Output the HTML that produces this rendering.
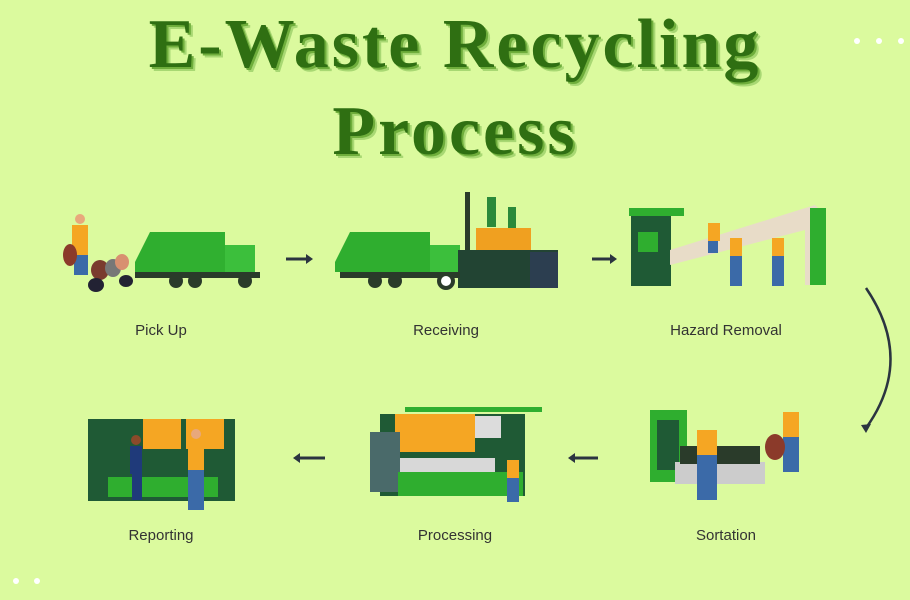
<!DOCTYPE html>
<html><head><style>
html,body{margin:0;padding:0}
body{width:910px;height:600px;background:#dbfa9e;position:relative;overflow:hidden;font-family:"Liberation Sans",sans-serif}
.t{position:absolute;left:0;width:910px;text-align:center;font-family:"Liberation Serif",serif;font-weight:bold;color:#2f6f12;text-shadow:2px 2px 0 #6fae3c,4px 4px 0 #a8d873;letter-spacing:3px}
.l{position:absolute;font-size:15px;color:#333;width:200px;text-align:center}
svg{position:absolute;left:0;top:0}
</style></head><body>
<div class="t" style="top:5px;font-size:70px;line-height:80px">E-Waste Recycling</div>
<div class="t" style="top:92px;font-size:70px;line-height:80px">Process</div>
<div class="l" style="left:61px;top:322px">Pick Up</div>
<div class="l" style="left:346px;top:322px">Receiving</div>
<div class="l" style="left:626px;top:322px">Hazard Removal</div>
<div class="l" style="left:61px;top:527px">Reporting</div>
<div class="l" style="left:355px;top:527px">Processing</div>
<div class="l" style="left:626px;top:527px">Sortation</div>
<svg width="910" height="600">
<g fill="#fff"><circle cx="857" cy="41" r="3"/><circle cx="879" cy="41" r="3"/><circle cx="901" cy="41" r="3"/><circle cx="16" cy="581" r="3"/><circle cx="37" cy="581" r="3"/></g>
<g stroke="#2b3440" stroke-width="3" fill="#2b3440">
<line x1="286" y1="259" x2="306" y2="259"/><polygon points="306,254 313,259 306,264" stroke="none"/>
<line x1="592" y1="259" x2="610" y2="259"/><polygon points="610,254 617,259 610,264" stroke="none"/>
<line x1="325" y1="458" x2="300" y2="458"/><polygon points="300,453 293,458 300,463" stroke="none"/>
<line x1="598" y1="458" x2="575" y2="458"/><polygon points="575,453 568,458 575,463" stroke="none"/>
<path d="M866 288 Q915 360 866 428" fill="none" stroke-width="2.5"/><polygon points="861,425 866,433 871,424" stroke="none"/>
</g>
<g><rect x="72" y="225" width="16" height="30" fill="#f5a623"/><circle cx="80" cy="219" r="5" fill="#e8a87c"/><rect x="74" y="255" width="14" height="20" fill="#3b6aa8"/>
<ellipse cx="70" cy="255" rx="7" ry="11" fill="#8b3a2a"/><ellipse cx="100" cy="270" rx="9" ry="10" fill="#7a3b2e"/><ellipse cx="113" cy="268" rx="8" ry="9" fill="#777"/><ellipse cx="122" cy="262" rx="7" ry="8" fill="#d89070"/><ellipse cx="96" cy="285" rx="8" ry="7" fill="#223"/><ellipse cx="126" cy="281" rx="7" ry="6" fill="#223"/>
<polygon points="135,262 150,232 225,232 225,272 135,272" fill="#2fae2f"/><rect x="160" y="232" width="65" height="40" fill="#30b030"/><rect x="225" y="245" width="30" height="30" fill="#3cbf3c"/><rect x="135" y="272" width="125" height="6" fill="#2a3b2a"/>
<g fill="#2a3b2a"><circle cx="176" cy="281" r="7"/><circle cx="195" cy="281" r="7"/><circle cx="245" cy="281" r="7"/></g></g>
<g><polygon points="335,262 350,232 430,232 430,272 335,272" fill="#2fae2f"/><rect x="430" y="245" width="30" height="30" fill="#3cbf3c"/>
<rect x="465" y="192" width="5" height="60" fill="#2a3b2a"/><rect x="487" y="197" width="9" height="30" fill="#2a8a3a"/><rect x="508" y="207" width="8" height="25" fill="#2a8a3a"/>
<rect x="476" y="228" width="55" height="25" fill="#f0a020"/><rect x="458" y="250" width="100" height="38" fill="#224433"/><rect x="530" y="252" width="28" height="36" fill="#2c3e50"/>
<rect x="340" y="272" width="120" height="6" fill="#2a3b2a"/><g fill="#2a3b2a"><circle cx="375" cy="281" r="7"/><circle cx="395" cy="281" r="7"/></g><circle cx="446" cy="281" r="7" fill="#fff" stroke="#2a3b2a" stroke-width="4"/></g>
<g><rect x="629" y="208" width="55" height="8" fill="#2fae2f"/><rect x="631" y="216" width="40" height="70" fill="#1f5a35"/><rect x="638" y="232" width="20" height="20" fill="#2fae2f"/>
<polygon points="670,250 815,205 825,215 825,285 805,285 805,230 670,265" fill="#e8dcc8"/><rect x="810" y="208" width="16" height="77" fill="#2fae2f"/>
<g fill="#f5a623"><rect x="708" y="223" width="12" height="18"/><rect x="730" y="238" width="12" height="18"/><rect x="772" y="238" width="12" height="18"/></g>
<g fill="#3b6aa8"><rect x="730" y="256" width="12" height="30"/><rect x="772" y="256" width="12" height="30"/><rect x="708" y="241" width="10" height="12"/></g></g>
<g><rect x="88" y="419" width="147" height="82" fill="#1f5a35"/><g fill="#f5a623"><rect x="143" y="419" width="38" height="30"/><rect x="186" y="419" width="38" height="30"/></g>
<rect x="108" y="477" width="110" height="20" fill="#2fae2f"/><rect x="130" y="446" width="12" height="28" fill="#1f3a7a"/><circle cx="136" cy="440" r="5" fill="#8b4a2a"/><rect x="132" y="474" width="10" height="26" fill="#1f3a7a"/>
<rect x="188" y="440" width="16" height="30" fill="#f5a623"/><circle cx="196" cy="434" r="5" fill="#e8a87c"/><rect x="188" y="470" width="16" height="40" fill="#3b6aa8"/></g>
<g><rect x="405" y="407" width="137" height="5" fill="#2fae2f"/><rect x="380" y="414" width="145" height="82" fill="#1f5a35"/><rect x="395" y="414" width="80" height="38" fill="#f5a623"/>
<rect x="370" y="432" width="30" height="60" fill="#4a6a6a"/><rect x="400" y="458" width="95" height="14" fill="#d8d8d8"/><rect x="398" y="472" width="125" height="24" fill="#2fae2f"/><rect x="475" y="416" width="26" height="22" fill="#dcdcdc"/>
<rect x="507" y="460" width="12" height="18" fill="#f5a623"/><rect x="507" y="478" width="12" height="24" fill="#3b6aa8"/></g>
<g><rect x="650" y="410" width="37" height="72" fill="#2fae2f"/><rect x="657" y="420" width="22" height="50" fill="#1f5a35"/><rect x="675" y="462" width="90" height="22" fill="#ccc"/><rect x="680" y="446" width="80" height="18" fill="#2a3b2a"/>
<rect x="697" y="430" width="20" height="25" fill="#f5a623"/><rect x="697" y="455" width="20" height="45" fill="#3b6aa8"/><rect x="783" y="412" width="16" height="25" fill="#f5a623"/><rect x="783" y="437" width="16" height="35" fill="#3b6aa8"/><ellipse cx="775" cy="447" rx="10" ry="13" fill="#8b3a2a"/></g>
</svg>
</body></html>
